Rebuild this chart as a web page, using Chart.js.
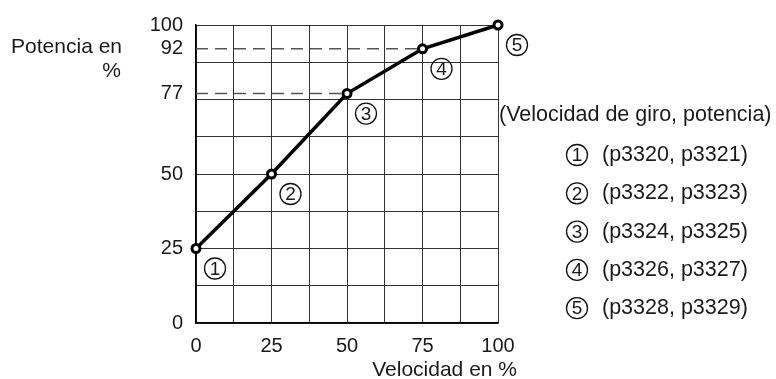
<!DOCTYPE html>
<html>
<head>
<meta charset="utf-8">
<script src="https://cdn.jsdelivr.net/npm/chart.js@4/dist/chart.umd.min.js"></script>
<style>
  html, body { margin: 0; padding: 0; background: #fff; }
  #wrap { width: 776px; height: 379px; }
</style>
</head>
<body>
<div id="wrap"><canvas id="c" width="776" height="379"></canvas></div>
<script>
// Speed / power characteristic (both in % of rated value)
const speedPct = [0, 25, 50, 75, 100];
const powerPct = [25, 50, 77, 92, 100];
const pointNumbers = ['1', '2', '3', '4', '5'];
const paramPairs = ['(p3320, p3321)', '(p3322, p3323)', '(p3324, p3325)', '(p3326, p3327)', '(p3328, p3329)'];
const legendTitle = '(Velocidad de giro, potencia)';
const yTitleLines = ['Potencia en', '%'];
const xTitle = 'Velocidad en %';

// Grid every 12.5 %, labelled ticks, and the two dashed reference levels
const gridSteps = [0, 12.5, 25, 37.5, 50, 62.5, 75, 87.5, 100];
const xTickLabels = [0, 25, 50, 75, 100];
const yTickLabels = [0, 25, 50, 77, 92, 100];
const refLevels = [77, 92];          // dashed helper lines
const refLevelSpeeds = [50, 75];     // where each helper line meets the curve

const FONT = '"Liberation Sans", Arial, Helvetica, sans-serif';
const TEXT = '#1a1a1a';

const curve = speedPct.map((s, i) => ({ x: s, y: powerPct[i] }));
const refSets = refLevels.map((lvl, i) => ({
  data: [{ x: 0, y: lvl }, { x: refLevelSpeeds[i], y: lvl }],
  showLine: true,
  borderColor: '#555',
  borderWidth: 1.5,
  borderDash: [12, 7],
  pointRadius: 0,
  clip: false
}));

const annotations = {
  id: 'annotations',
  afterDatasetsDraw(chart) {
    const ctx = chart.ctx;
    const xs = chart.scales.x, ys = chart.scales.y;
    ctx.save();
    ctx.strokeStyle = '#111';
    ctx.fillStyle = TEXT;
    ctx.lineWidth = 1.3;

    const circled = (cx, cy, txt) => {
      ctx.beginPath();
      ctx.arc(cx, cy, 10.5, 0, Math.PI * 2);
      ctx.stroke();
      ctx.font = '19px ' + FONT;
      ctx.textAlign = 'center';
      ctx.textBaseline = 'middle';
      ctx.fillText(txt, cx, cy + 1);
    };

    // numbered markers beside each characteristic point
    curve.forEach((p, i) => {
      circled(xs.getPixelForValue(p.x) + 19, ys.getPixelForValue(p.y) + 20, pointNumbers[i]);
    });

    // parameter key on the right
    ctx.font = '21.5px ' + FONT;
    ctx.textAlign = 'left';
    ctx.textBaseline = 'middle';
    ctx.fillText(legendTitle, 499, 115);
    paramPairs.forEach((t, i) => {
      const cy = 155 + i * 38.3;
      circled(577, cy, pointNumbers[i]);
      ctx.font = '21.5px ' + FONT;
      ctx.textAlign = 'left';
      ctx.textBaseline = 'middle';
      ctx.fillText(t, 602, cy);
    });

    // axis titles
    ctx.font = '21px ' + FONT;
    ctx.textAlign = 'right';
    ctx.textBaseline = 'alphabetic';
    ctx.fillText(yTitleLines[0], 122, 53);
    ctx.fillText(yTitleLines[1], 121, 77);
    ctx.fillText(xTitle, 517, 376);
    ctx.restore();
  }
};

new Chart(document.getElementById('c'), {
  type: 'scatter',
  data: {
    datasets: [
      {
        data: curve,
        showLine: true,
        borderColor: '#000',
        borderWidth: 3.5,
        pointRadius: 4,
        pointBorderWidth: 3,
        pointBackgroundColor: '#fff',
        pointBorderColor: '#000',
        clip: false
      },
      ...refSets
    ]
  },
  options: {
    responsive: false,
    devicePixelRatio: 1,
    animation: false,
    events: [],
    layout: { padding: { left: 0, right: 278, top: 21, bottom: 0 } },
    plugins: { legend: { display: false }, tooltip: { enabled: false } },
    scales: {
      x: {
        type: 'linear',
        min: 0, max: 100,
        afterBuildTicks(scale) { scale.ticks = gridSteps.map(v => ({ value: v })); },
        afterFit(scale) { scale.height = 56; },
        grid: { color: '#333', lineWidth: 1, drawTicks: false },
        border: { color: '#000', width: 1.5 },
        ticks: {
          autoSkip: false,
          maxRotation: 0,
          padding: 11,
          color: TEXT,
          font: { family: FONT, size: 20 },
          callback: v => (xTickLabels.includes(v) ? String(v) : '')
        }
      },
      y: {
        type: 'linear',
        min: 0, max: 100,
        afterBuildTicks(scale) {
          const vals = [...new Set([...gridSteps, ...yTickLabels])].sort((a, b) => a - b);
          scale.ticks = vals.map(v => ({ value: v }));
        },
        afterFit(scale) { scale.width = 196; },
        grid: {
          lineWidth: 1,
          drawTicks: false,
          color: c => (gridSteps.includes(c.tick.value) ? '#333' : 'rgba(0,0,0,0)')
        },
        border: { color: '#000', width: 1.5 },
        ticks: {
          autoSkip: false,
          padding: 13,
          color: TEXT,
          font: { family: FONT, size: 20 },
          callback: v => (yTickLabels.includes(v) ? String(v) : '')
        }
      }
    }
  },
  plugins: [annotations]
});
</script>
</body>
</html>
